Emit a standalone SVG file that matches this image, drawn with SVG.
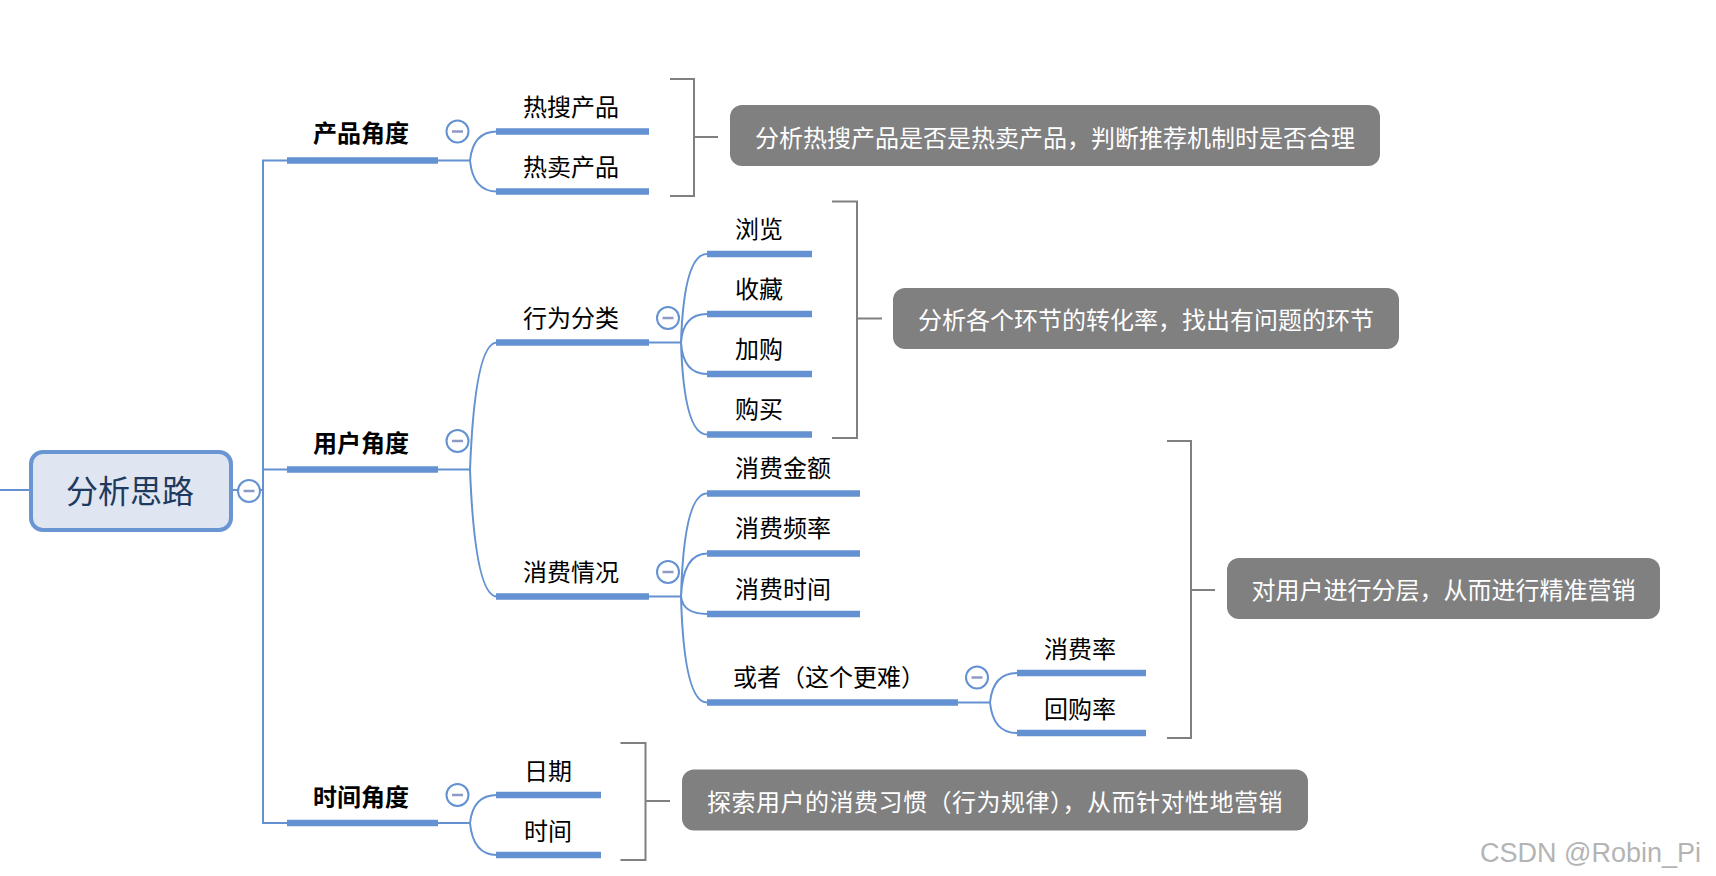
<svg xmlns="http://www.w3.org/2000/svg" width="1716" height="876" viewBox="0 0 1716 876">
<style>
.ln{fill:none;stroke:#6391d2;stroke-width:2}
.bar{stroke:#6391d2;stroke-width:6.5}
.br{fill:none;stroke:#808080;stroke-width:2}
.t{font-family:"Noto Sans CJK SC","Noto Sans",sans-serif;font-size:24px;fill:#000;text-anchor:middle;dominant-baseline:central}
.b{font-weight:bold}
.ct{font-family:"Noto Sans CJK SC","Noto Sans",sans-serif;font-size:24px;fill:#fff;text-anchor:middle;dominant-baseline:central}
.cb{fill:#808080}
.col circle{fill:#fff;stroke:#6391d2;stroke-width:2}
.col line{stroke:#8e9ac4;stroke-width:2.5}
</style>
<defs>
<g id="minus" class="col"><circle cx="0" cy="0" r="11"/><line x1="-5.5" y1="0" x2="5.5" y2="0"/></g>
</defs>
<rect width="1716" height="876" fill="#fff"/>
<g id="connectors">
<path class="ln" d="M0 490H31M231 490H263M287 160.5H263V823H287M263 469.5H287"/>
<path class="ln" d="M438 160.5H470M470 160.5Q473 131.5 497 131.5M470 160.5Q473 191.5 497 191.5"/>
<path class="ln" d="M438 469.5H470M470 469.5Q475 342.5 497 342.5M470 469.5Q475 596.5 497 596.5"/>
<path class="ln" d="M438 823H470M470 823Q473 795 497 795M470 823Q473 855 497 855"/>
<path class="ln" d="M649 342.5H681M681 342.5Q684 254 707 254M681 342.5Q683 314 707 314M681 342.5Q683 374 707 374M681 342.5Q684 434.5 707 434.5"/>
<path class="ln" d="M649 596.5H681M681 596.5Q684 493.5 707 493.5M681 596.5Q683 553.5 707 553.5M681 596.5Q683 614 707 614M681 596.5Q684 702.5 707 702.5"/>
<path class="ln" d="M958 702.5H990M990 702.5Q993 673 1017 673M990 702.5Q993 733 1017 733"/>
<path class="br" d="M670 79H694V196H670M694 137H718"/>
<path class="br" d="M832 201.5H857V438H832M857 318.5H882"/>
<path class="br" d="M1167 441H1191V738H1167M1191 590H1215"/>
<path class="br" d="M620.5 743H645.5V860H620.5M645.5 801H670"/>
</g>
<g id="root">
<rect x="31" y="452" width="200" height="78" rx="12" fill="#dfe6f1" stroke="#6a95d3" stroke-width="4"/>
<text x="130" y="489" class="t" style="font-size:32px;fill:#1f3a5f">分析思路</text>
<use href="#minus" x="249" y="491"/>
</g>
<g id="n-product">
<line class="bar" x1="287" y1="160.5" x2="438" y2="160.5"/>
<text x="361" y="131" class="t b">产品角度</text>
<use href="#minus" x="457.5" y="131.5"/>
</g>
<g id="n-user">
<line class="bar" x1="287" y1="469.5" x2="438" y2="469.5"/>
<text x="361" y="441" class="t b">用户角度</text>
<use href="#minus" x="457.5" y="441"/>
</g>
<g id="n-time">
<line class="bar" x1="287" y1="823" x2="438" y2="823"/>
<text x="361" y="795" class="t b">时间角度</text>
<use href="#minus" x="457.5" y="795"/>
</g>
<g id="n-hotsearch">
<line class="bar" x1="496" y1="131.5" x2="649" y2="131.5"/>
<text x="571" y="105" class="t">热搜产品</text>
</g>
<g id="n-hotsell">
<line class="bar" x1="496" y1="191.5" x2="649" y2="191.5"/>
<text x="571" y="165" class="t">热卖产品</text>
</g>
<g id="n-behavior">
<line class="bar" x1="496" y1="342.5" x2="649" y2="342.5"/>
<text x="571" y="316" class="t">行为分类</text>
<use href="#minus" x="668" y="318"/>
</g>
<g id="n-consume">
<line class="bar" x1="496" y1="596.5" x2="649" y2="596.5"/>
<text x="571" y="570" class="t">消费情况</text>
<use href="#minus" x="668" y="572"/>
</g>
<g id="n-date">
<line class="bar" x1="496" y1="795" x2="601" y2="795"/>
<text x="548" y="769" class="t">日期</text>
</g>
<g id="n-timeofday">
<line class="bar" x1="496" y1="855" x2="601" y2="855"/>
<text x="548" y="829" class="t">时间</text>
</g>
<g id="n-browse">
<line class="bar" x1="707" y1="254" x2="812" y2="254"/>
<text x="759" y="227" class="t">浏览</text>
</g>
<g id="n-fav">
<line class="bar" x1="707" y1="314" x2="812" y2="314"/>
<text x="759" y="287" class="t">收藏</text>
</g>
<g id="n-cart">
<line class="bar" x1="707" y1="374" x2="812" y2="374"/>
<text x="759" y="347" class="t">加购</text>
</g>
<g id="n-buy">
<line class="bar" x1="707" y1="434.5" x2="812" y2="434.5"/>
<text x="759" y="407" class="t">购买</text>
</g>
<g id="n-amount">
<line class="bar" x1="707" y1="493.5" x2="860" y2="493.5"/>
<text x="783" y="466" class="t">消费金额</text>
</g>
<g id="n-freq">
<line class="bar" x1="707" y1="553.5" x2="860" y2="553.5"/>
<text x="783" y="526.5" class="t">消费频率</text>
</g>
<g id="n-ctime">
<line class="bar" x1="707" y1="614" x2="860" y2="614"/>
<text x="783" y="587" class="t">消费时间</text>
</g>
<g id="n-or">
<line class="bar" x1="707" y1="702.5" x2="958" y2="702.5"/>
<text x="829" y="675.5" class="t">或者（这个更难）</text>
<use href="#minus" x="977" y="677.5"/>
</g>
<g id="n-rate">
<line class="bar" x1="1017" y1="673" x2="1146" y2="673"/>
<text x="1080" y="647" class="t">消费率</text>
</g>
<g id="n-repurchase">
<line class="bar" x1="1017" y1="733" x2="1146" y2="733"/>
<text x="1080" y="707" class="t">回购率</text>
</g>
<g id="c-product">
<rect class="cb" x="730" y="105" width="650" height="61" rx="12"/>
<text x="1055" y="136" class="ct">分析热搜产品是否是热卖产品，判断推荐机制时是否合理</text>
</g>
<g id="c-behavior">
<rect class="cb" x="893" y="288" width="506" height="61" rx="12"/>
<text x="1146" y="318.5" class="ct">分析各个环节的转化率，找出有问题的环节</text>
</g>
<g id="c-consume">
<rect class="cb" x="1227" y="558" width="433" height="61" rx="12"/>
<text x="1443.5" y="588.5" class="ct">对用户进行分层，从而进行精准营销</text>
</g>
<g id="c-time">
<rect class="cb" x="682" y="769.5" width="626" height="61" rx="12"/>
<text x="995" y="800" class="ct" letter-spacing="0.5">探索用户的消费习惯（行为规律），从而针对性地营销</text>
</g>
<text x="1480" y="862" font-family="Liberation Sans, Arial, sans-serif" font-size="27" fill="#b4b4b4">CSDN @Robin_Pi</text>
</svg>
